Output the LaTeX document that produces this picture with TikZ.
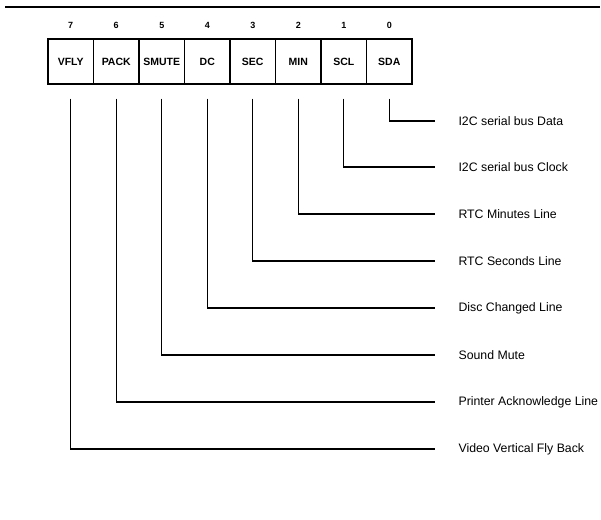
\documentclass[tikz,border=0pt]{standalone}
\usepackage{fontspec}
\setmainfont{Liberation Sans}
\begin{document}
\begin{tikzpicture}[x=1pt,y=-1pt,
  line width=1.1pt,
  cell/.style={draw,minimum width=45.5pt,minimum height=45pt,inner sep=0pt,
    font=\bfseries\fontsize{10.5}{12}\selectfont},
  bitnum/.style={inner sep=0pt,font=\bfseries\fontsize{9}{10}\selectfont},
  sig/.style={anchor=west,inner sep=0pt,font=\fontsize{12.3}{14}\selectfont},
  wire/.style={line width=1.1pt}]
\useasboundingbox (0,0) rectangle (601,519);
\draw[line width=1.2pt] (5,7) -- (600,7);
% cells
\foreach \b/\t [count=\k from 0] in {7/VFLY,6/PACK,5/SMUTE,4/DC,3/SEC,2/MIN,1/SCL,0/SDA}{
  \node[cell] (c\b) at ({70.75+45.5*\k},61.5) {\t};
  \node[bitnum] (n\b) at ({70.75+45.5*\k},25) {\b};
  \coordinate (s\b) at ([yshift=-14pt]c\b.south);
}
% labels
\node[sig] (l0) at (458,121) {I2C serial bus Data};
\node[sig] (l1) at (458,167) {I2C serial bus Clock};
\node[sig] (l2) at (458,214) {RTC Minutes Line};
\node[sig] (l3) at (458,261) {RTC Seconds Line};
\node[sig] (l4) at (458,308) {Disc Changed Line};
\node[sig] (l5) at (458,355) {Sound Mute};
\node[sig] (l6) at (458,402) {Printer Acknowledge Line};
\node[sig] (l7) at (458,449) {Video Vertical Fly Back};
% connectors
\foreach \b in {0,...,7}{
  \draw[wire] (s\b) |- ([xshift=-23pt]l\b.west);
}
\end{tikzpicture}
\end{document}
